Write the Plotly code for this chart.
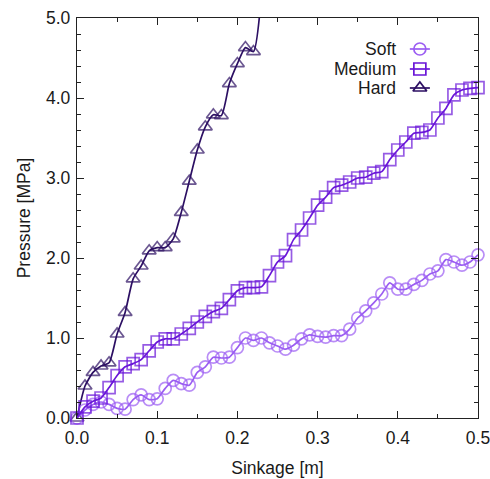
import plotly.graph_objects as go

# Sinkage sampled every 0.01 m
sinkage = [round(0.01 * i, 2) for i in range(51)]

soft = [0.00, 0.10, 0.17, 0.20, 0.17, 0.12, 0.11, 0.23, 0.29, 0.23,
        0.24, 0.37, 0.47, 0.43, 0.41, 0.57, 0.64, 0.76, 0.75, 0.76,
        0.88, 1.00, 0.97, 1.00, 0.94, 0.90, 0.86, 0.91, 0.99, 1.04,
        1.02, 1.01, 1.03, 1.03, 1.11, 1.25, 1.34, 1.44, 1.55, 1.69,
        1.61, 1.61, 1.67, 1.72, 1.80, 1.84, 1.98, 1.95, 1.91, 1.95,
        2.04]

medium = [0.00, 0.14, 0.21, 0.25, 0.38, 0.53, 0.64, 0.68, 0.73, 0.84,
          0.95, 0.99, 0.99, 1.05, 1.12, 1.20, 1.27, 1.33, 1.37, 1.48,
          1.59, 1.63, 1.63, 1.64, 1.78, 1.95, 2.03, 2.23, 2.35, 2.50,
          2.66, 2.76, 2.88, 2.91, 2.95, 3.00, 3.01, 3.06, 3.08, 3.23,
          3.35, 3.45, 3.56, 3.57, 3.60, 3.75, 3.87, 4.04, 4.10, 4.12,
          4.13]

hard = [0.00, 0.40, 0.57, 0.65, 0.69, 1.05, 1.32, 1.74, 1.90, 2.09,
        2.13, 2.13, 2.24, 2.57, 2.96, 3.35, 3.64, 3.79, 3.78, 4.18,
        4.43, 4.63, 4.58, 5.30]

series_names = ["Soft", "Medium", "Hard"]
colors = {"Soft": "#9B5DF2", "Medium": "#6A16D8", "Hard": "#2C0F63"}
symbols = {"Soft": "circle-open", "Medium": "square-open", "Hard": "triangle-up-open"}
values = {"Soft": soft, "Medium": medium, "Hard": hard}

Y_MAX = 5.0
FONT = "Liberation Sans, Arial, sans-serif"
FS = 17.5
TXT = "#1a1a1a"
MSIZE = 12
LW = 1.7

fig = go.Figure()

for name in ["Hard", "Soft", "Medium"]:
    ys = values[name]
    xs = sinkage[:len(ys)]
    # points above the axis range are not drawn as markers
    sizes = [MSIZE if y <= Y_MAX else 0 for y in ys]
    fig.add_trace(go.Scatter(
        x=xs, y=ys, mode="lines+markers", name=name,
        line=dict(color=colors[name], width=LW, shape="spline", smoothing=0.6),
        marker=dict(symbol=symbols[name], size=sizes, color=colors[name],
                    line=dict(color=colors[name], width=LW)),
        cliponaxis=False, showlegend=False,
    ))

# Key entries (label on the left, sample on the right)
key_rows = {"Soft": 0.9225, "Medium": 0.8725, "Hard": 0.825}
for name in series_names:
    yk = key_rows[name]
    fig.add_trace(go.Scatter(
        x=[0.83, 0.88], y=[yk, yk], xaxis="x2", yaxis="y2", mode="lines",
        line=dict(color=colors[name], width=LW), showlegend=False, hoverinfo="skip"))
    fig.add_trace(go.Scatter(
        x=[0.855], y=[yk], xaxis="x2", yaxis="y2", mode="markers",
        marker=dict(symbol=symbols[name], size=MSIZE, color=colors[name],
                    line=dict(color=colors[name], width=LW)),
        showlegend=False, hoverinfo="skip"))
    fig.add_annotation(x=0.800, y=yk, xref="x2", yref="y2", text=name,
                       showarrow=False, xanchor="right", yanchor="middle",
                       font=dict(family=FONT, size=FS, color=TXT))

axis_common = dict(
    showline=True, linecolor="#222", linewidth=1.3, mirror="ticks",
    ticks="inside", ticklen=7, tickwidth=1.2, tickcolor="#222",
    showgrid=False, zeroline=False, automargin=False,
    ticklabeloverflow="allow",
    tickfont=dict(family=FONT, size=FS, color=TXT),
)

fig.update_layout(
    width=490, height=479,
    margin=dict(l=77, r=12, t=18, b=61),
    paper_bgcolor="white", plot_bgcolor="white",
    xaxis=dict(range=[0, 0.5], dtick=0.1, tickformat=".1f", ticklabelstandoff=4,
               minor=dict(dtick=0.05, ticks="inside", ticklen=4, tickcolor="#222"),
               title=dict(text="Sinkage [m]", font=dict(family=FONT, size=FS, color=TXT),
                          standoff=14),
               **axis_common),
    yaxis=dict(range=[0, Y_MAX], dtick=1, tickformat=".1f", ticklabelstandoff=2,
               minor=dict(dtick=0.2, ticks="inside", ticklen=4, tickcolor="#222"),
               title=dict(text="Pressure [MPa]", font=dict(family=FONT, size=FS, color=TXT),
                          standoff=10),
               **axis_common),
    xaxis2=dict(overlaying="x", range=[0, 1], visible=False),
    yaxis2=dict(overlaying="y", range=[0, 1], visible=False),
)

fig.write_html("out.html")
